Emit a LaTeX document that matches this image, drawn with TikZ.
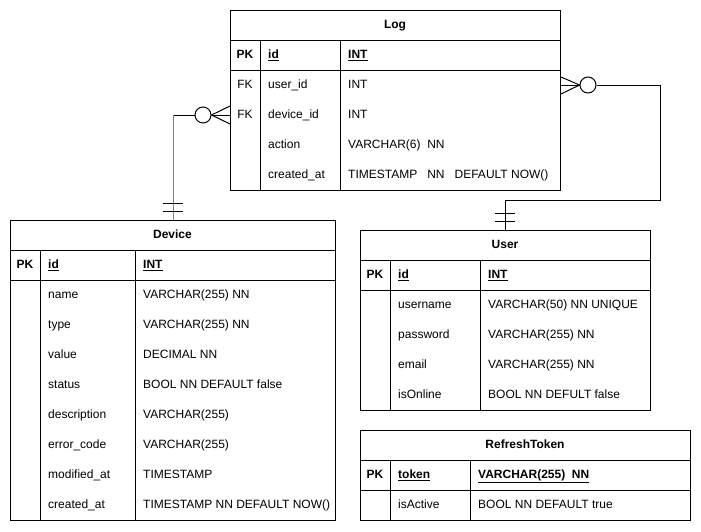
\documentclass[tikz,border=0pt]{standalone}
\usepackage{fontspec}
\setmainfont{Liberation Sans}
\usetikzlibrary{positioning}

\begin{document}
\begin{tikzpicture}[x=1pt,y=-1pt,font=\fontsize{12}{14}\selectfont]
    \tikzstyle{table}  = [draw,line width=1pt,anchor=north west,inner sep=0pt]
    \tikzstyle{title}  = [font=\fontsize{12}{14}\selectfont\bfseries,inner sep=0pt,text height=9pt,text depth=2pt]
    \tikzstyle{key}    = [inner sep=0pt,text height=9pt,text depth=2pt]
    \tikzstyle{pkey}   = [key,font=\fontsize{12}{14}\selectfont\bfseries]
    \tikzstyle{field}  = [anchor=west,inner sep=0pt,text height=9pt,text depth=2pt]
    \tikzstyle{rule}   = [line width=1pt]
    \tikzstyle{link}   = [draw,line width=1pt,black]
    \tikzstyle{ring}   = [circle,draw,line width=1pt,fill=white,minimum size=16pt,inner sep=0pt]

    \useasboundingbox (0,0) rectangle (701,531);

    % Log
    \node[table,minimum width=330pt,minimum height=180pt] (log) at (230,10) {};
    \draw[rule] (230,40) -- (560,40) (230,70) -- (560,70);
    \draw[rule] (260,40) -- (260,190) (340,40) -- (340,190);
    \node[title] (log title) at (395,25) {Log};
    \node[pkey] (log pk) at (245,55) {PK};
    \node[field] (log id) at (268,55) {\textbf{\underline{id}}};
    \node[field] (log idtype) at (348,55) {\textbf{\underline{INT}}};
    \foreach \fk/\fname/\ftype [count=\i] in {FK/user\_id/INT, FK/device\_id/INT,
        {}/action/VARCHAR(6)\ \ NN, {}/created\_at/TIMESTAMP\ \ \ NN\ \ \ DEFAULT NOW()} {
        \node[key] (log k\i) at (245,55+30*\i) {\fk};
        \node[field] (log f\i) at (268,55+30*\i) {\fname};
        \node[field] (log t\i) at (348,55+30*\i) {\ftype};
    }

    % Device
    \node[table,minimum width=325pt,minimum height=300pt] (dev) at (10,220) {};
    \draw[rule] (10,250) -- (335,250) (10,280) -- (335,280);
    \draw[rule] (40,250) -- (40,520) (135,250) -- (135,520);
    \node[title] (dev title) at (172.5,235) {Device};
    \node[pkey] (dev pk) at (25,265) {PK};
    \node[field] (dev id) at (48,265) {\textbf{\underline{id}}};
    \node[field] (dev idtype) at (143,265) {\textbf{\underline{INT}}};
    \foreach \fname/\ftype [count=\i] in {name/VARCHAR(255) NN, type/VARCHAR(255) NN,
        value/DECIMAL NN, status/BOOL NN DEFAULT false, description/VARCHAR(255),
        error\_code/VARCHAR(255), modified\_at/TIMESTAMP,
        created\_at/TIMESTAMP NN DEFAULT NOW()} {
        \node[field] (dev f\i) at (48,265+30*\i) {\fname};
        \node[field] (dev t\i) at (143,265+30*\i) {\ftype};
    }

    % User
    \node[table,minimum width=290pt,minimum height=180pt] (user) at (360,230) {};
    \draw[rule] (360,260) -- (650,260) (360,290) -- (650,290);
    \draw[rule] (390,260) -- (390,410) (480,260) -- (480,410);
    \node[title] (user title) at (505,245) {User};
    \node[pkey] (user pk) at (375,275) {PK};
    \node[field] (user id) at (398,275) {\textbf{\underline{id}}};
    \node[field] (user idtype) at (488,275) {\textbf{\underline{INT}}};
    \foreach \fname/\ftype [count=\i] in {username/VARCHAR(50) NN UNIQUE,
        password/VARCHAR(255) NN, email/VARCHAR(255) NN, isOnline/BOOL NN DEFULT false} {
        \node[field] (user f\i) at (398,275+30*\i) {\fname};
        \node[field] (user t\i) at (488,275+30*\i) {\ftype};
    }

    % RefreshToken
    \node[table,minimum width=330pt,minimum height=90pt] (token) at (360,430) {};
    \draw[rule] (360,460) -- (690,460) (360,490) -- (690,490);
    \draw[rule] (390,460) -- (390,520) (470,460) -- (470,520);
    \node[title] (token title) at (525,445) {RefreshToken};
    \node[pkey] (token pk) at (375,475) {PK};
    \node[field] (token id) at (398,475) {\textbf{\underline{token}}};
    \node[field] (token idtype) at (478,475) {\textbf{\underline{VARCHAR(255)\ \ NN}}};
    \node[field] (token f1) at (398,505) {isActive};
    \node[field] (token t1) at (478,505) {BOOL NN DEFAULT true};

    % Log -- Device
    \node[ring] (ring dev) at (203,115) {};
    \coordinate (dev top) at ([xshift=163pt]dev.north west);
    \draw[link] (log.west |- log f2) -- (ring dev.east);
    \draw[link] ([yshift=9pt]log.west |- log f2) -- (ring dev.east);
    \draw[link] ([yshift=-9pt]log.west |- log f2) -- (ring dev.east);
    \draw[link] (ring dev.west) -- (ring dev.west -| dev top);
    \draw[link,gray] (ring dev.west -| dev top) -- (dev top);
    \draw[link] ([xshift=-10pt,yshift=9pt]dev top) -- ++(20,0);
    \draw[link] ([xshift=-10pt,yshift=17pt]dev top) -- ++(20,0);

    % Log -- User
    \node[ring] (ring user) at (588,85) {};
    \coordinate (user top) at ([xshift=145pt]user.north west);
    \draw[link] (log.east |- log f1) -- (ring user.west);
    \draw[link] ([yshift=8pt]log.east |- log f1) -- (ring user.west);
    \draw[link] ([yshift=-9pt]log.east |- log f1) -- (ring user.west);
    \draw[link] (ring user.east) -| (660,200) -| (user top);
    \draw[link] ([xshift=-10pt,yshift=9pt]user top) -- ++(20,0);
    \draw[link] ([xshift=-10pt,yshift=17pt]user top) -- ++(20,0);
\end{tikzpicture}
\end{document}
